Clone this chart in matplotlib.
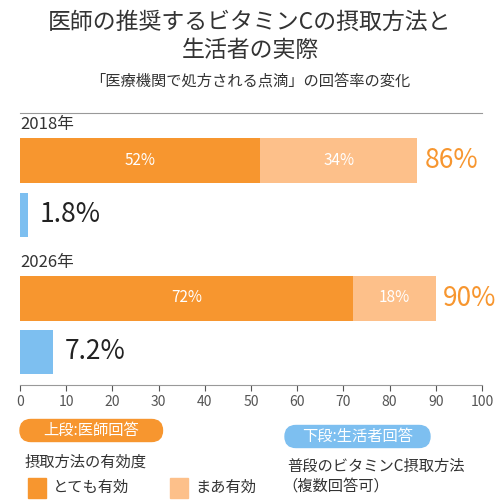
import matplotlib
matplotlib.use("Agg")
import matplotlib.pyplot as plt
from matplotlib.patches import FancyBboxPatch, Rectangle

plt.rcParams['font.family'] = ['Noto Sans CJK JP', 'DejaVu Sans']

years = ["2018年", "2026年"]
very = [52, 72]
some = [34, 18]
totals = [86, 90]
consumers = [1.8, 7.2]
xticks = [0, 10, 20, 30, 40, 50, 60, 70, 80, 90, 100]

ORANGE = "#F7962F"
LIGHT = "#FDC08A"
BLUE = "#7DBFF0"

fig = plt.figure(figsize=(5, 5), dpi=100)
ax = fig.add_axes([0.04, 0.23, 0.924, 0.544])
ax.set_xlim(0, 100)
ax.set_ylim(385, 113)

doc_y = [160.5, 298]
con_y = [214.5, 351.5]
for i in range(2):
    ax.barh(doc_y[i], very[i], height=45, color=ORANGE)
    ax.barh(doc_y[i], some[i], left=very[i], height=45, color=LIGHT)
    ax.text(very[i] / 2, doc_y[i], f"{very[i]}%", color="white", ha="center", va="center", fontsize=11)
    ax.text(very[i] + some[i] / 2, doc_y[i], f"{some[i]}%", color="white", ha="center", va="center", fontsize=11)
    ax.text(totals[i] + 1.5, doc_y[i], f"{totals[i]}%", color=ORANGE, ha="left", va="center", fontsize=19)
    ax.barh(con_y[i], consumers[i], height=44, color=BLUE)
    ax.text(consumers[i] + 2.5, con_y[i], f"{consumers[i]}%", color="#222222", ha="left", va="center", fontsize=19)
    ax.text(0, doc_y[i] - 27, years[i], ha="left", va="bottom", fontsize=12, color="#333333")

for s in ["left", "right"]:
    ax.spines[s].set_visible(False)
ax.spines["top"].set_color("#999999")
ax.spines["bottom"].set_color("#999999")
ax.set_yticks([])
ax.set_xticks(xticks)
ax.tick_params(axis="x", colors="#555555", labelsize=10, length=4)

fig.text(0.5, 0.955, "医師の推奨するビタミンCの摂取方法と", ha="center", va="center", fontsize=16.5, color="#333333")
fig.text(0.5, 0.9, "生活者の実際", ha="center", va="center", fontsize=16.5, color="#333333")
fig.text(0.5, 0.835, "「医療機関で処方される点滴」の回答率の変化", ha="center", va="center", fontsize=11, color="#333333")

def pill(x, y, w, h, color, text):
    p = FancyBboxPatch((x, y), w, h, boxstyle="round,pad=0,rounding_size=0.022",
                       transform=fig.transFigure, color=color)
    fig.patches.append(p)
    fig.text(x + w / 2, y + h / 2, text, ha="center", va="center", color="white", fontsize=11)

pill(0.04, 0.117, 0.285, 0.044, ORANGE, "上段:医師回答")
pill(0.57, 0.105, 0.29, 0.044, BLUE, "下段:生活者回答")
fig.text(0.05, 0.075, "摂取方法の有効度", ha="left", va="center", fontsize=11, color="#333333")
fig.patches.append(Rectangle((0.055, 0.005), 0.036, 0.04, transform=fig.transFigure, color=ORANGE))
fig.text(0.105, 0.025, "とても有効", ha="left", va="center", fontsize=11, color="#333333")
fig.patches.append(Rectangle((0.34, 0.005), 0.036, 0.04, transform=fig.transFigure, color=LIGHT))
fig.text(0.39, 0.025, "まあ有効", ha="left", va="center", fontsize=11, color="#333333")
fig.text(0.575, 0.068, "普段のビタミンC摂取方法", ha="left", va="center", fontsize=11, color="#333333")
fig.text(0.565, 0.028, "（複数回答可）", ha="left", va="center", fontsize=11, color="#333333")

fig.savefig("out.png", dpi=100)
